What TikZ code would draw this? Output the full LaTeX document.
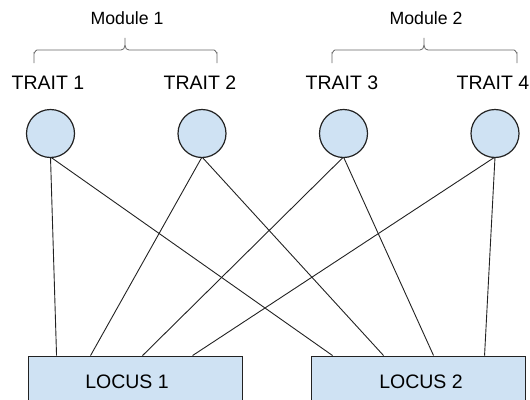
\documentclass[tikz,border=0pt]{standalone}
\usepackage{fontspec}
\setmainfont{Liberation Sans}
\definecolor{fillblue}{HTML}{CFE2F3}
\definecolor{linegray}{HTML}{222222}
\definecolor{bracegray}{HTML}{666666}
\begin{document}
\begin{tikzpicture}[x=1pt,y=-1pt,
  trait/.style={circle, draw=linegray, line width=1.2pt, fill=fillblue, minimum size=48pt, inner sep=0pt},
  locus/.style={rectangle, draw=linegray, line width=0.9pt, fill=fillblue, minimum width=214pt, minimum height=52pt, inner sep=0pt},
  lbl/.style={font=\fontsize{19.5pt}{22pt}\selectfont, inner sep=0pt},
  modlbl/.style={font=\fontsize{17.7pt}{20pt}\selectfont, inner sep=0pt},
  conn/.style={draw=linegray, line width=0.9pt},
  bracestyle/.style={draw=bracegray, line width=0.8pt}]
\useasboundingbox (0,0) rectangle (530,399);
\clip (0,0) rectangle (530,399);
% module labels
\node[modlbl] (m1) at (127,18) {Module 1};
\node[modlbl] (m2) at (426,18) {Module 2};
% braces
\draw[bracestyle] (34,63) -- (34,53) to[out=-90,in=180] (37,50) -- (121,50) to[out=0,in=-90] (125,38) to[out=-90,in=180] (129,50) -- (214,50) to[out=0,in=-90] (217,53) -- (217,63);
\draw[bracestyle] (332,63) -- (332,53) to[out=-90,in=180] (335,50) -- (420,50) to[out=0,in=-90] (424,38) to[out=-90,in=180] (428,50) -- (514,50) to[out=0,in=-90] (517,53) -- (517,63);
% trait labels
\node[lbl] (tl1) at (48,83) {TRAIT 1};
\node[lbl] (tl2) at (200,83) {TRAIT 2};
\node[lbl] (tl3) at (342,83) {TRAIT 3};
\node[lbl] (tl4) at (493,83) {TRAIT 4};
% loci
\node[locus] (l1) at (135,382) {};
\node[lbl] (l1t) at (127,382) {LOCUS 1};
\node[locus] (l2) at (418,382) {};
\node[lbl] (l2t) at (421,382) {LOCUS 2};
% connectors
\draw[conn] (50.5,157) coordinate (t1b) -- ([xshift=29pt]l1.north west);
\draw[conn] (t1b) -- ([xshift=22pt]l2.north west);
\draw[conn] (202,157) coordinate (t2b) -- ([xshift=63pt]l1.north west);
\draw[conn] (t2b) -- ([xshift=73pt]l2.north west);
\draw[conn] (343.5,157) coordinate (t3b) -- ([xshift=115pt]l1.north west);
\draw[conn] (t3b) -- ([xshift=123pt]l2.north west);
\draw[conn] (495,157) coordinate (t4b) -- ([xshift=165pt]l1.north west);
\draw[conn] (t4b) -- ([xshift=174pt]l2.north west);
% traits
\node[trait] (t1) at (50.5,133.5) {};
\node[trait] (t2) at (202,133.5) {};
\node[trait] (t3) at (343.5,133.5) {};
\node[trait] (t4) at (495,133.5) {};
\end{tikzpicture}
\end{document}
